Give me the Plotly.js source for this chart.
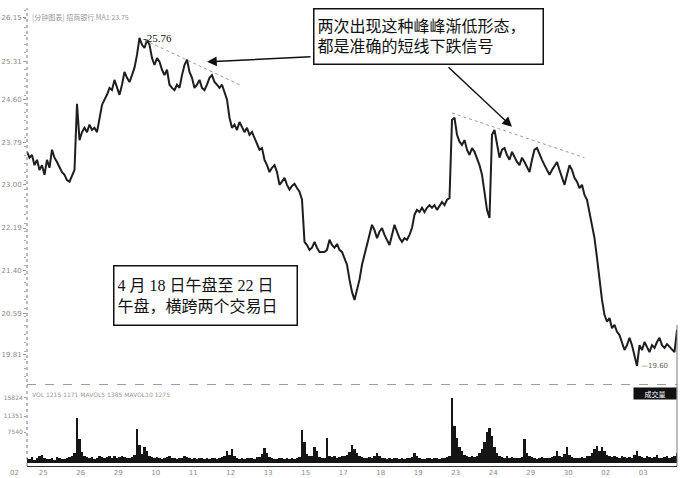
<!DOCTYPE html>
<html>
<head>
<meta charset="utf-8">
<script src="https://cdn.plot.ly/plotly-3.0.1.min.js"></script>
<style>html,body{margin:0;padding:0;background:#fff;}#chart{width:683px;height:478px;}</style>
</head>
<body>
<div id="chart"></div>
<script>
// ---- data ----
const pointsPerDay = 15;
const dayLabels = ["25","26","29","10","11","12","13","15","17","18","19","23","24","29","30","02","03"];
const price = [
23.62,23.51,23.56,23.37,23.47,23.28,23.37,23.19,23.47,23.32,23.66,23.51,23.43,23.32,23.24,
23.19,23.09,23.06,23.19,23.28,24.52,23.84,23.99,24.07,23.99,24.13,24.03,24.07,23.99,24.26,
24.50,24.60,24.69,24.82,24.78,24.97,24.82,24.69,24.88,25.12,25.01,24.93,25.06,25.20,25.44,
25.76,25.63,25.57,25.72,25.63,25.38,25.25,25.38,25.31,25.16,25.06,25.16,24.88,24.82,24.78,
24.88,24.82,25.06,25.25,25.35,25.12,25.01,24.82,24.88,24.97,24.82,24.78,24.88,25.01,25.06,
24.93,24.88,24.82,24.88,24.75,24.60,24.26,24.07,24.13,24.03,24.18,24.07,23.99,24.07,23.94,
23.99,23.88,23.75,23.66,23.69,23.47,23.37,23.24,23.32,23.37,23.24,23.00,23.06,23.13,23.00,
22.91,22.98,23.02,22.94,22.87,22.72,21.93,21.87,21.78,21.82,21.93,21.82,21.74,21.74,21.74,
21.78,21.97,21.87,21.82,21.89,21.78,21.74,21.63,21.50,21.22,20.99,20.84,21.03,21.22,21.50,
21.69,21.87,22.06,22.25,22.15,22.00,22.12,22.19,22.06,21.97,21.87,22.06,22.25,22.12,22.00,
21.93,22.00,21.97,22.06,22.19,22.44,22.53,22.49,22.57,22.49,22.57,22.62,22.57,22.62,22.53,
22.60,22.68,22.62,22.72,22.75,24.22,24.26,23.94,23.81,23.75,23.84,23.66,23.56,23.69,23.62,
23.51,23.37,23.19,22.81,22.53,22.38,23.94,24.03,23.75,23.51,23.66,23.69,23.56,23.47,23.62,
23.51,23.43,23.37,23.51,23.43,23.32,23.24,23.47,23.66,23.69,23.56,23.47,23.37,23.28,23.19,
23.28,23.37,23.43,23.28,23.13,23.00,23.19,23.37,23.28,23.13,23.06,22.94,23.00,22.81,22.72,
22.49,22.30,22.00,21.63,21.22,20.84,20.56,20.43,20.50,20.31,20.37,20.24,20.18,20.05,19.90,
19.99,20.13,19.99,19.81,19.60,19.99,19.90,20.05,19.94,19.86,19.99,19.94,20.05,20.13,19.99,
19.94,20.01,19.96,19.90,19.86,20.28
];
const volume = [
1200,900,1400,800,1100,1600,2000,1300,900,1000,1200,800,1500,1100,900,
1000,1300,1500,1800,2500,10900,5800,2600,1800,1400,1200,1500,1000,1300,1800,
1500,1200,1400,1700,1300,1600,1100,1400,1800,1500,1300,1200,1500,1900,8200,
4500,2200,3800,3000,1600,1400,1200,1500,1300,1000,1200,1400,1800,1300,1100,
1000,1300,1200,1800,1400,1100,900,1200,1000,1300,1100,900,1200,1000,1100,
1300,1000,1200,1500,1800,2800,2000,3300,1800,1200,1000,1100,900,1200,1300,
1100,1000,1500,1400,2200,3600,2400,1500,1200,1000,900,1300,1100,1000,1200,
1000,1100,900,1300,1500,8000,5000,2200,1600,1800,3800,3000,1500,1200,1300,
6000,1800,1400,1600,1300,1500,1800,1600,2000,2600,4300,3500,2500,1800,1500,
1300,1200,1400,1100,1600,2500,1700,1300,1100,1000,1200,900,1100,1300,1000,
1200,1000,1100,1300,1500,2400,1600,1200,1000,900,1100,1200,1000,1300,1100,
1000,1200,1100,1400,1800,15824,9000,6000,4000,3000,2000,1800,1500,1600,1400,
1600,2500,3500,5000,7500,8500,6500,4000,2500,1800,1500,1300,1600,1200,1400,
1300,1100,1200,1500,5800,2500,1800,1400,1200,1000,1300,1500,1200,1100,1300,
1400,1600,3000,1800,1500,2200,3800,2000,1500,1300,1200,1100,1400,1300,1600,
1800,2500,3500,4200,3000,3800,2800,2000,1600,1400,1800,1500,1300,1600,1400,
1300,1500,1200,2000,2800,1800,1500,1300,1700,1400,1200,1500,1900,1300,1100,
1400,1600,1200,1500,1800,2400
];
const priceTicks = [26.15,25.31,24.60,23.79,23.00,22.19,21.40,20.59,19.81,19.24];
const volTicks = [7540,11351,15824];

// ---- build ----
const idx = price.map((_, i) => i);
const maxI = price.indexOf(Math.max(...price));
const minI = price.indexOf(Math.min(...price));
const tickVals = dayLabels.map((_, k) => k * pointsPerDay + 6.5);

const cjk = "Liberation Serif, Noto Sans CJK SC, serif";
const small = {family: "DejaVu Sans, sans-serif", size: 7, color: "#8a8a8a"};
const tiny = {family: "DejaVu Sans, sans-serif", size: 6, color: "#8a8a8a"};

const traces = [
  {x: idx, y: price, type: 'scatter', mode: 'lines', xaxis: 'x', yaxis: 'y',
   line: {color: '#1e1e1e', width: 2}, hoverinfo: 'skip'},
  {x: idx, y: volume, type: 'bar', xaxis: 'x', yaxis: 'y2',
   marker: {color: '#151515', line: {width: 0}}, hoverinfo: 'skip'}
];

const layout = {
  width: 683, height: 478,
  margin: {l: 27, r: 6, t: 8, b: 12},
  paper_bgcolor: '#fff', plot_bgcolor: '#fff',
  showlegend: false, bargap: 0,
  xaxis: {range: [0, price.length - 1], anchor: 'y2', showgrid: false, zeroline: false,
          tickvals: tickVals, ticktext: dayLabels, ticks: '', tickfont: small,
          showline: true, linecolor: '#333', linewidth: 1},
  yaxis: {domain: [0.1769, 1], range: [19.243, 26.32], showgrid: false, zeroline: false,
          tickvals: priceTicks, tickformat: '.2f', ticks: 'outside', ticklen: 3, tickcolor: '#999',
          tickfont: small,
          minor: {ticks: 'outside', ticklen: 2, dtick: 0.16, tick0: 19.24, tickcolor: '#aaa', showgrid: false}},
  yaxis2: {domain: [0, 0.1725], range: [-730, 18500], showgrid: false, zeroline: false,
           tickvals: volTicks, ticktext: volTicks.map(String), ticks: 'outside', ticklen: 2,
           tickcolor: '#999', tickfont: tiny},
  shapes: [
    {type: 'line', xref: 'paper', yref: 'paper', x0: 0, x1: 0, y0: 0, y1: 1,
     line: {color: '#777', width: 1, dash: 'dot'}},
    {type: 'line', xref: 'paper', yref: 'y', x0: 0, x1: 1, y0: 19.243, y1: 19.243,
     line: {color: '#444', width: 1, dash: 'dash'}},
    {type: 'line', xref: 'paper', yref: 'paper', x0: 1, x1: 1, y0: 0, y1: 0.308,
     line: {color: '#777', width: 1}},
    {type: 'line', xref: 'x', yref: 'y', x0: 47, y0: 25.72, x1: 85, y1: 24.88,
     line: {color: '#9a9a9a', width: 1, dash: 'dot'}},
    {type: 'line', xref: 'x', yref: 'y', x0: 170, y0: 24.35, x1: 223, y1: 23.51,
     line: {color: '#9a9a9a', width: 1, dash: 'dot'}}
  ],
  annotations: [
    {xref: 'x', yref: 'y', x: maxI, y: price[maxI], text: '-' + price[maxI].toFixed(2),
     showarrow: false, xanchor: 'left', yanchor: 'middle', xshift: 1,
     font: {family: 'Liberation Serif, serif', size: 11, color: '#111'}},
    {xref: 'x', yref: 'y', x: minI, y: price[minI], text: '—' + price[minI].toFixed(2),
     showarrow: false, xanchor: 'left', yanchor: 'middle', xshift: 2,
     font: {family: 'DejaVu Sans, sans-serif', size: 7, color: '#666'}},
    {xref: 'paper', yref: 'paper', x: 0.005, y: 0.995, xanchor: 'left', yanchor: 'top',
     text: '[分钟图表] 招商银行 MA1 23.75', showarrow: false,
     font: {family: 'Noto Sans CJK SC, sans-serif', size: 7, color: '#999'}},
    {xref: 'paper', yref: 'paper', x: 0.005, y: 0.168, xanchor: 'left', yanchor: 'top',
     text: 'VOL 1215 1171 MAVOL5 1385 MAVOL10 1275', showarrow: false,
     font: {family: 'DejaVu Sans, sans-serif', size: 6, color: '#999'}},
    {xref: 'paper', yref: 'paper', x: 1, y: 0.172, xanchor: 'right', yanchor: 'top',
     text: '成交量', showarrow: false, bgcolor: '#111', width: 40, height: 9,
     font: {family: 'Noto Sans CJK SC, sans-serif', size: 7, color: '#fff'}},
    {xref: 'paper', yref: 'paper', x: -0.009, y: 0, xanchor: 'right', yanchor: 'top', yshift: -1,
     text: '02', showarrow: false, font: small},
    {xref: 'paper', yref: 'paper', x: 0.618, y: 0.937, xanchor: 'center', yanchor: 'middle',
     text: '两次出现这种峰峰渐低形态，<br>都是准确的短线下跌信号', showarrow: false, align: 'left',
     width: 222, height: 48, borderpad: 3, bordercolor: '#111', borderwidth: 1.5, bgcolor: '#fff',
     font: {family: cjk, size: 16, color: '#111'}},
    {xref: 'paper', yref: 'paper', x: 0.275, y: 0.373, xanchor: 'center', yanchor: 'middle',
     text: '4 月 18 日午盘至 22 日<br>午盘，横跨两个交易日', showarrow: false, align: 'left',
     width: 176, height: 52, borderpad: 3, bordercolor: '#111', borderwidth: 1.5, bgcolor: '#fff',
     font: {family: cjk, size: 16, color: '#111'}},
    {xref: 'x', yref: 'y', x: 72, y: 25.31, ax: 105, ay: -5, text: '', showarrow: true,
     arrowhead: 2, arrowsize: 1.3, arrowwidth: 1.5, arrowcolor: '#111'},
    {xref: 'x', yref: 'y', x: 194, y: 24.09, ax: -65, ay: -61, text: '', showarrow: true,
     arrowhead: 2, arrowsize: 1.3, arrowwidth: 1.5, arrowcolor: '#111'}
  ]
};

Plotly.newPlot('chart', traces, layout, {displayModeBar: false, staticPlot: true});
</script>
</body>
</html>
